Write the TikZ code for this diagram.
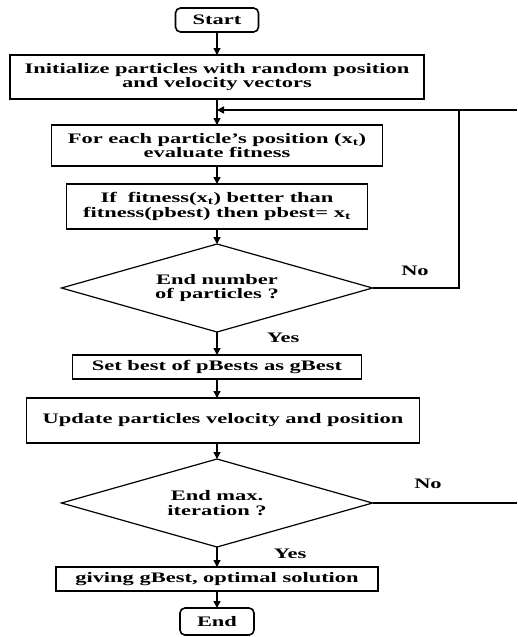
\documentclass[tikz,border=0pt]{standalone}
\usepackage{fontspec}
\newfontfamily\chartfont[FakeStretch=1.55]{Liberation Serif}
\usetikzlibrary{arrows.meta,positioning,shapes.geometric}

\begin{document}
\begin{tikzpicture}[
    x=1pt,y=-1pt,
    font=\chartfont\bfseries\fontsize{14.5}{14.5}\selectfont,
    box/.style={draw,line width=1.6pt,align=center,inner sep=0pt,outer sep=0pt},
    term/.style={box,rounded corners=5pt,minimum height=24pt},
    decision/.style={draw,diamond,aspect=3.5,line width=1.2pt,align=center,inner sep=0pt,
      outer sep=0pt,minimum width=311pt,minimum height=88pt},
    line/.style={line width=1.5pt},
    arrow/.style={line,-{Triangle[length=7pt,width=7pt]}},
    lbl/.style={inner sep=0pt}
  ]
    \useasboundingbox (0,0) rectangle (517,637);
    \node[term,minimum width=83pt] (start) at (217,20) {Start};
    \node[box,minimum width=414pt,minimum height=44pt,below=23pt of start] (init) {Initialize particles with random position\\and velocity vectors};
    \node[box,minimum width=331pt,minimum height=41pt,below=26pt of init] (eval) {For each particle’s position (x\textsubscript{t})\\evaluate fitness};
    \node[box,minimum width=301pt,minimum height=45pt,below=18pt of eval] (pbest) {If\ \ fitness(x\textsubscript{t}) better than\\fitness(pbest) then pbest= x\textsubscript{t}};
    \node[decision,below=15pt of pbest] (endpart) {End number\\of particles ?};
    \node[box,minimum width=289pt,minimum height=24pt,below=23pt of endpart] (gbest) {Set best of pBests as gBest};
    \node[box,minimum width=393pt,minimum height=45pt,below=19pt of gbest,xshift=6pt] (update) {Update particles velocity and position};
    \node[decision,below=16pt of update,xshift=-6pt] (enditer) {End max.\\iteration ?};
    \node[box,minimum width=322pt,minimum height=24pt,below=20pt of enditer] (result) {giving gBest, optimal solution};
    \node[term,minimum width=74pt,minimum height=27pt,below=17pt of result] (end) {End};
    % loop back to the particle evaluation
    \path (init.south) ++(0,11) coordinate (merge);
    \coordinate (turn) at (459,110);
    \coordinate (edgetop) at (517,110);
    \coordinate (edgelow) at (enditer.east -| edgetop);
    \node[lbl] (nopart) at (415,271) {No};
    \node[lbl] (yespart) at (283,338) {Yes};
    \node[lbl] (noiter) at (428,484) {No};
    \node[lbl] (yesiter) at (290,554) {Yes};
    \draw[arrow] (start) -- (init);
    \draw[arrow] (init) -- (eval);
    \draw[arrow] (edgetop) -- (merge);
    \draw[line] (endpart.east) -| (turn);
    \draw[arrow] (eval) -- (pbest);
    \draw[arrow] (pbest) -- (endpart);
    \draw[arrow] (endpart) -- (gbest);
    \draw[arrow] (gbest) -- (gbest |- update.north);
    \draw[arrow] (update.south -| enditer) -- (enditer);
    \draw[line,line width=1.2pt] (enditer.east) -- (edgelow);
    \draw[arrow] (enditer) -- (result);
    \draw[arrow] (result) -- (end);
  \end{tikzpicture}
\end{document}
